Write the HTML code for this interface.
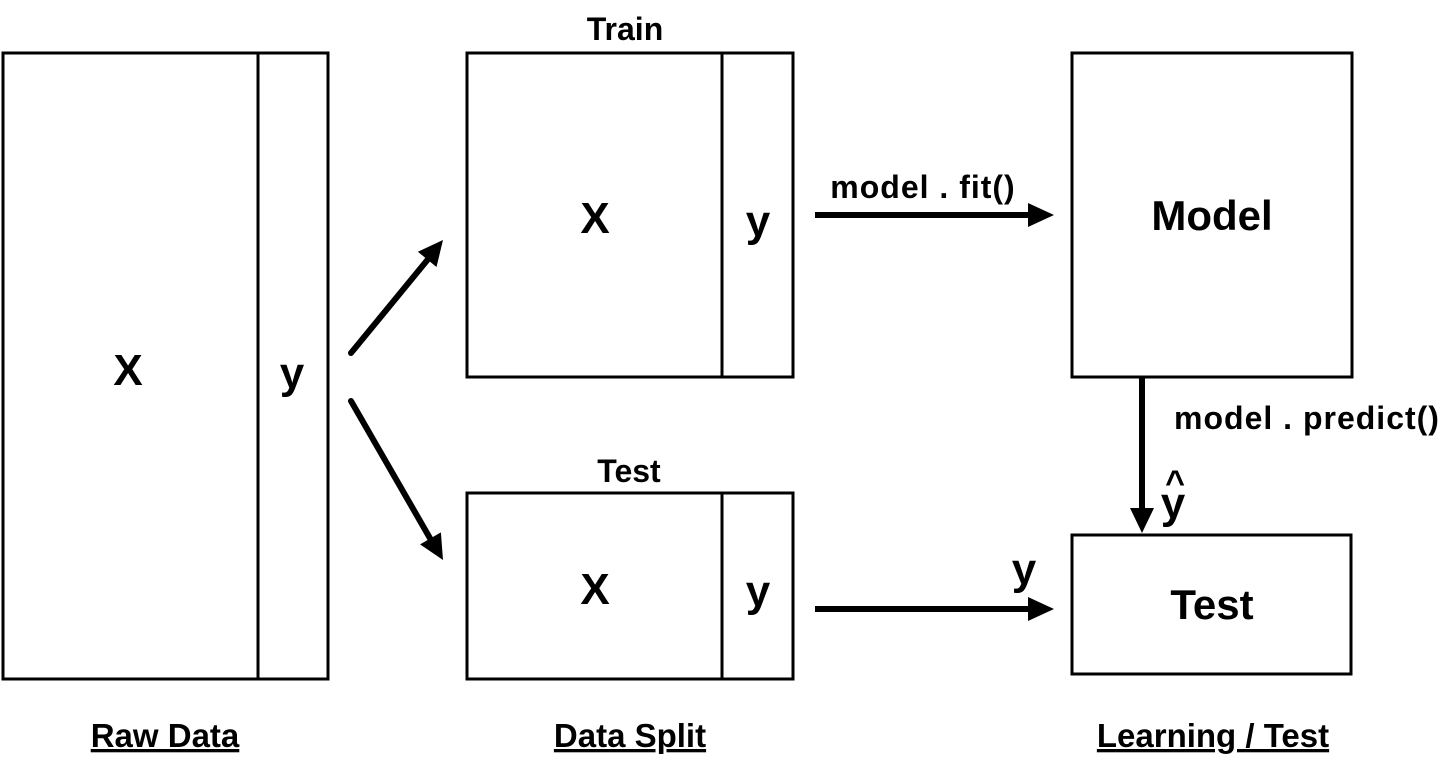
<!DOCTYPE html>
<html><head><style>
body{margin:0;background:#fff}
svg text{font-family:"Liberation Sans",sans-serif;font-weight:bold;fill:#000}
</style></head><body>
<svg width="1445" height="760" viewBox="0 0 1445 760" xmlns="http://www.w3.org/2000/svg">
<g fill="none" stroke="#000" stroke-width="3">
<rect x="3" y="53" width="325" height="626"/>
<line x1="258" y1="53" x2="258" y2="679"/>
<rect x="467" y="53" width="326" height="324"/>
<line x1="722" y1="53" x2="722" y2="377"/>
<rect x="467" y="493" width="326" height="186"/>
<line x1="722" y1="493" x2="722" y2="679"/>
<rect x="1072" y="53" width="280" height="324"/>
<rect x="1072" y="535" width="279" height="139"/>
</g>
<g stroke="#000" stroke-width="6" fill="none">
<line x1="351" y1="353" x2="429" y2="258" stroke-linecap="round"/>
<line x1="351" y1="401" x2="431" y2="540" stroke-linecap="round"/>
<line x1="815" y1="215" x2="1032" y2="215"/>
<line x1="815" y1="609" x2="1032" y2="609"/>
<line x1="1142" y1="378" x2="1142" y2="512"/>
</g>
<g fill="#000">
<polygon points="443,240 417.9,251.8 436.5,267"/>
<polygon points="443,560 420.1,544.4 440.9,532.4"/>
<polygon points="1028,203 1054,215 1028,227"/>
<polygon points="1028,597 1054,609 1028,621"/>
<polygon points="1130,508 1142,533 1154,508"/>
</g>
<g font-size="44" text-anchor="middle">
<text x="128" y="385">X</text>
<text x="292" y="388">y</text>
<text x="595" y="233">X</text>
<text x="758" y="236">y</text>
<text x="595" y="604">X</text>
<text x="758" y="606">y</text>
<text x="1024" y="584">y</text>
<text x="1173" y="518">y</text>
<text x="1175" y="494" font-size="34">^</text>
</g>
<g font-size="42" text-anchor="middle">
<text x="1212" y="230">Model</text>
<text x="1212" y="619">Test</text>
</g>
<g font-size="32" text-anchor="middle">
<text x="625" y="40">Train</text>
<text x="629" y="482">Test</text>
<text x="923" y="198" letter-spacing="1">model . fit()</text>
<text x="1307" y="429" letter-spacing="1">model . predict()</text>
</g>
<g font-size="33" text-anchor="middle" text-decoration="underline">
<text x="165" y="747">Raw Data</text>
<text x="630" y="747">Data Split</text>
<text x="1213" y="747">Learning / Test</text>
</g>
</svg>
</body></html>
